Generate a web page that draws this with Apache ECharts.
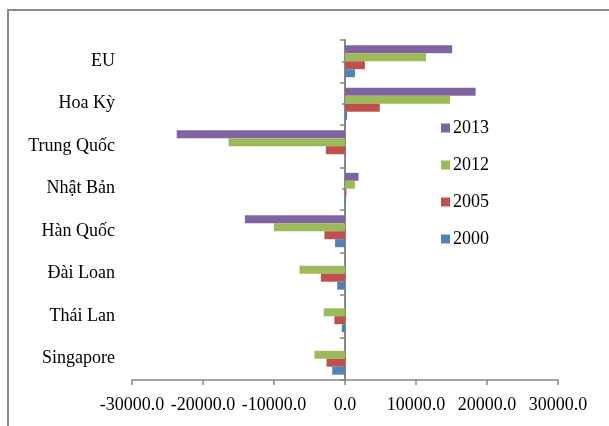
<!DOCTYPE html>
<html>
<head>
<meta charset="utf-8">
<script src="https://cdn.jsdelivr.net/npm/echarts@6/dist/echarts.min.js"></script>
<style>
  html, body { margin: 0; padding: 0; background: #fff; }
  #chart { width: 609px; height: 426px; }
</style>
</head>
<body>
<div id="chart"></div>
<script>
// quốc gia / khu vực (top to bottom)
const countries = ['EU', 'Hoa Kỳ', 'Trung Quốc', 'Nhật Bản', 'Hàn Quốc', 'Đài Loan', 'Thái Lan', 'Singapore']
const years = ['2013', '2012', '2005', '2000']
const v2013 = [15100, 18400, -23700, 1900, -14100, 0, 0, 0]
const v2012 = [11400, 14800, -16400, 1400, -10000, -6400, -3000, -4300]
const v2005 = [2800, 4900, -2700, 200, -2900, -3400, -1500, -2600]
const v2000 = [1400, 300, 0, 150, -1400, -1100, -450, -1800]
const xTicks = { min: -30000, max: 30000, interval: 10000 }

const colors = ['#8064A2', '#9BBB59', '#C0504D', '#4F81BD']
const font = 'Liberation Serif, Times New Roman, serif'

const chart = echarts.init(document.getElementById('chart'))
const seriesData = [v2013, v2012, v2005, v2000]

const option = {
  animation: false,
  color: colors,
  grid: { left: 132, right: 51, top: 40, bottom: 46 },
  legend: {
    orient: 'vertical',
    left: 436,
    top: 114,
    itemWidth: 9,
    itemHeight: 9,
    itemGap: 19,
    icon: 'rect',
    data: years,
    textStyle: { fontFamily: font, fontSize: 18, color: '#000', padding: [0, 0, 0, -2] }
  },
  xAxis: [
    {
      type: 'value',
      min: xTicks.min,
      max: xTicks.max,
      interval: xTicks.interval,
      splitLine: { show: false },
      axisLine: { show: true, lineStyle: { color: '#868686', width: 1.5 } },
      axisTick: { show: true, length: 5, lineStyle: { color: '#868686', width: 1.5 } },
      axisLabel: {
        fontFamily: font,
        fontSize: 18,
        color: '#000',
        margin: 16,
        formatter: v => v.toFixed(1)
      }
    },
    {
      // hidden twin, only so the mid-band ticks can sit at zero too
      type: 'value',
      show: false,
      min: xTicks.min,
      max: xTicks.max,
      interval: xTicks.interval,
      splitLine: { show: false }
    }
  ],
  yAxis: [
    {
      // the axis line sits at zero
      type: 'category',
      data: countries,
      inverse: true,
      axisLine: { onZero: true, onZeroAxisIndex: 0, lineStyle: { color: '#868686', width: 2 } },
      axisTick: { show: true, length: 5, lineStyle: { color: '#868686', width: 1.5 } },
      axisLabel: { show: false }
    },
    {
      // labels stay on the left edge
      type: 'category',
      data: countries,
      inverse: true,
      position: 'left',
      axisLine: { show: false, onZero: false },
      axisTick: { show: false },
      axisLabel: { fontFamily: font, fontSize: 18, color: '#000', margin: 17 }
    },
    {
      // short marks at the middle of each band
      type: 'category',
      data: countries,
      inverse: true,
      position: 'left',
      axisLine: { show: false, onZero: true, onZeroAxisIndex: 1 },
      axisTick: { show: true, alignWithLabel: true, length: 3, lineStyle: { color: '#868686', width: 1.5 } },
      axisLabel: { show: false }
    }
  ],
  series: years.map((y, i) => ({
    name: y,
    type: 'bar',
    xAxisIndex: 0,
    yAxisIndex: 0,
    data: seriesData[i],
    barGap: '0%',
    barCategoryGap: '25%',
    itemStyle: { color: colors[i] }
  })),
  graphic: [
    {
      type: 'polyline',
      shape: { points: [[8, 426], [8, 10], [609, 10]] },
      style: { stroke: '#8c8c8c', lineWidth: 2, fill: null }
    }
  ]
}
chart.setOption(option)
</script>
</body>
</html>
